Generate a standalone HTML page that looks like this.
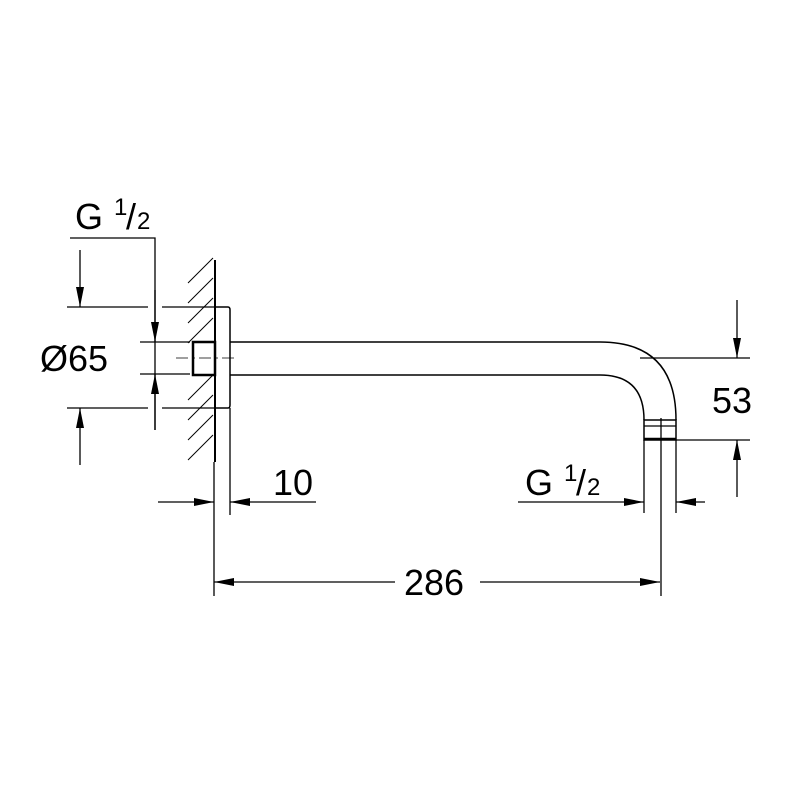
<!DOCTYPE html>
<html><head><style>body{margin:0;background:#fff}svg{display:block}text{font-family:"Liberation Sans",Arial,sans-serif;fill:#000}</style></head>
<body>
<svg width="800" height="800" viewBox="0 0 800 800" xmlns="http://www.w3.org/2000/svg">
<defs>
<marker id="a" viewBox="0 0 20 8" refX="20" refY="4" markerWidth="20" markerHeight="8" markerUnits="userSpaceOnUse" orient="auto"><path d="M0,0 L20,4 L0,8z" fill="#000"/></marker>
</defs>
<g stroke="#000" fill="none" stroke-width="1.3">
<line x1="215" y1="260" x2="215" y2="462" stroke-width="2"/>
<g stroke-width="1">
<line x1="188" y1="283" x2="213" y2="258"/>
<line x1="188" y1="303" x2="213" y2="278"/>
<line x1="188" y1="323" x2="213" y2="298"/>
<line x1="188" y1="343" x2="213" y2="318"/>
<line x1="188" y1="400" x2="213" y2="375"/>
<line x1="188" y1="420" x2="213" y2="395"/>
<line x1="188" y1="440" x2="213" y2="415"/>
<line x1="188" y1="460" x2="213" y2="435"/>
</g>
<path d="M215,307 H228 Q230,307 230,310 V405 Q230,408 228,408 H215" stroke-width="1.5"/>
<rect x="193" y="342" width="22" height="33" fill="#fff" stroke-width="2.5"/>
<path d="M230,342 H600 Q676,342 676,420" stroke-width="1.5"/>
<path d="M230,375 H600 Q644,375 644,420" stroke-width="1.5"/>
<rect x="644" y="420" width="32" height="20" stroke-width="1.5"/>
<line x1="644" y1="426" x2="676" y2="426"/>
<line x1="644" y1="439" x2="676" y2="439" stroke-width="2.5"/>
<line x1="176" y1="358" x2="238" y2="358" stroke-dasharray="12,4,3,4" stroke-width="0.8"/>
<line x1="640" y1="358" x2="750" y2="358"/>
<line x1="661" y1="418" x2="661" y2="596"/>
<line x1="676" y1="440" x2="750" y2="440"/>
<line x1="737" y1="300" x2="737" y2="358" marker-end="url(#a)"/>
<line x1="737" y1="497" x2="737" y2="440" marker-end="url(#a)"/>
<line x1="644" y1="440" x2="644" y2="513"/>
<line x1="676" y1="440" x2="676" y2="513"/>
<line x1="518" y1="502" x2="644" y2="502" marker-end="url(#a)"/>
<line x1="705" y1="502" x2="676" y2="502" marker-end="url(#a)"/>
<line x1="214" y1="462" x2="214" y2="596"/>
<line x1="230" y1="408" x2="230" y2="515"/>
<line x1="158" y1="502" x2="214" y2="502" marker-end="url(#a)"/>
<line x1="316" y1="502" x2="230" y2="502" marker-end="url(#a)"/>
<line x1="395" y1="582" x2="214" y2="582" marker-end="url(#a)"/>
<line x1="480" y1="582" x2="660" y2="582" marker-end="url(#a)"/>
<polyline points="70,238 155,238 155,430"/>
<line x1="140" y1="342" x2="190" y2="342"/>
<line x1="140" y1="374" x2="190" y2="374"/>
<line x1="155" y1="290" x2="155" y2="342" marker-end="url(#a)"/>
<line x1="155" y1="430" x2="155" y2="374" marker-end="url(#a)"/>
<line x1="67" y1="307" x2="148" y2="307"/>
<line x1="162" y1="307" x2="215" y2="307"/>
<line x1="67" y1="408" x2="148" y2="408"/>
<line x1="162" y1="408" x2="215" y2="408"/>
<line x1="80" y1="250" x2="80" y2="307" marker-end="url(#a)"/>
<line x1="80" y1="465" x2="80" y2="408" marker-end="url(#a)"/>
</g>
<g font-size="36">
<text x="75" y="229">G</text><text x="114" y="215" font-size="24">1</text><text x="126" y="229">/</text><text x="137" y="229" font-size="24">2</text>
<text x="40" y="371">Ø65</text>
<text x="273" y="495">10</text>
<text x="525" y="495">G</text><text x="564" y="481" font-size="24">1</text><text x="576" y="495">/</text><text x="587" y="495" font-size="24">2</text>
<text x="404" y="595">286</text>
<text x="712" y="413">53</text>
</g>
</svg>
</body></html>
